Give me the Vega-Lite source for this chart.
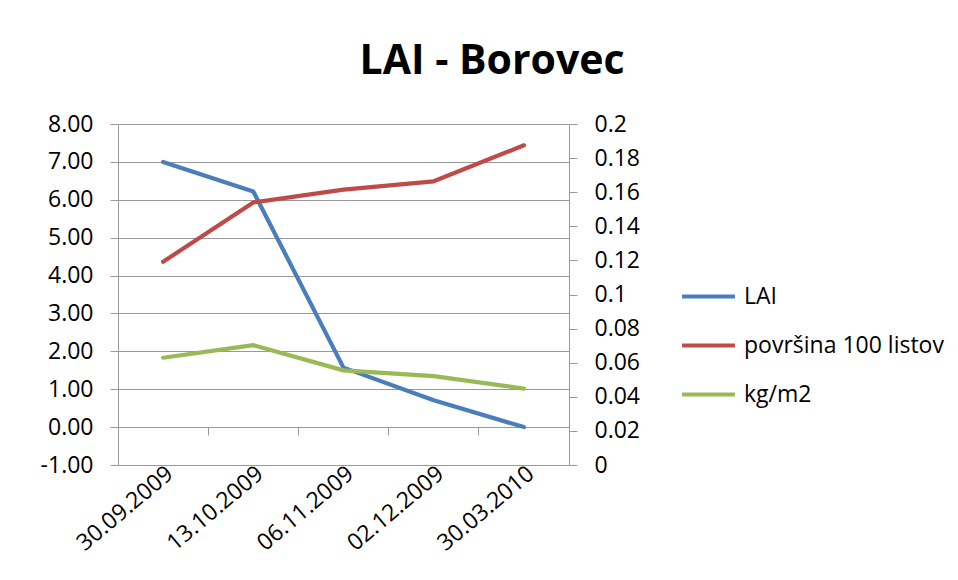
{
  "$schema": "https://vega.github.io/schema/vega-lite/v6.json",
  "width": 451,
  "height": 341,
  "autosize": {"type": "none"},
  "padding": {"left": 118, "top": 124, "right": 389, "bottom": 115},
  "background": "white",
  "title": {
    "text": "LAI - Borovec",
    "font": "Open Sans",
    "fontSize": 41,
    "fontWeight": "bold",
    "color": "#000000",
    "anchor": "middle",
    "frame": "bounds",
    "offset": 30
  },
  "data": {
    "values": [
      {"date": "30.09.2009", "series": "LAI", "value": 7.0},
      {"date": "13.10.2009", "series": "LAI", "value": 6.22},
      {"date": "06.11.2009", "series": "LAI", "value": 1.57},
      {"date": "02.12.2009", "series": "LAI", "value": 0.71},
      {"date": "30.03.2010", "series": "LAI", "value": 0.0},
      {"date": "30.09.2009", "series": "površina 100 listov", "value": 0.1192},
      {"date": "13.10.2009", "series": "površina 100 listov", "value": 0.154},
      {"date": "06.11.2009", "series": "površina 100 listov", "value": 0.1615},
      {"date": "02.12.2009", "series": "površina 100 listov", "value": 0.1664},
      {"date": "30.03.2010", "series": "površina 100 listov", "value": 0.1875},
      {"date": "30.09.2009", "series": "kg/m2", "value": 0.0629},
      {"date": "13.10.2009", "series": "kg/m2", "value": 0.0703},
      {"date": "06.11.2009", "series": "kg/m2", "value": 0.0555},
      {"date": "02.12.2009", "series": "kg/m2", "value": 0.0521},
      {"date": "30.03.2010", "series": "kg/m2", "value": 0.0448}
    ]
  },
  "layer": [
    {
      "transform": [{"filter": "datum.series === 'LAI'"}],
      "mark": {"type": "line", "strokeWidth": 4.2, "strokeCap": "round", "strokeJoin": "round"},
      "encoding": {
        "x": {
          "field": "date", "type": "ordinal", "sort": null, "bandPosition": 0.5,
          "scale": {"type": "band", "paddingInner": 0, "paddingOuter": 0},
          "axis": {
            "title": null, "orient": "bottom", "labelAngle": -40, "ticks": false, "domain": false,
            "labelFont": "Open Sans", "labelFontSize": 23, "labelColor": "#000000",
            "labelPadding": -3
          }
        },
        "y": {
          "field": "value", "type": "quantitative",
          "scale": {"domain": [-1, 8], "nice": false, "zero": false},
          "axis": {
            "title": null, "orient": "left",
            "values": [-1, 0, 1, 2, 3, 4, 5, 6, 7, 8],
            "labelExpr": "replace(format(datum.value, '.2f'), '\u2212', '-')",
            "labelFont": "Open Sans", "labelFontSize": 23, "labelColor": "#000000",
            "labelPadding": 17, "tickSize": 8, "tickColor": "#999999",
            "domainColor": "#999999", "grid": true, "gridColor": "#999999"
          }
        },
        "color": {
          "field": "series", "type": "nominal",
          "scale": {
            "domain": ["LAI", "površina 100 listov", "kg/m2"],
            "range": ["#4A7EBB", "#BE4B48", "#98B954"]
          },
          "legend": {
            "title": null, "orient": "none", "legendX": 575, "legendY": 157,
            "symbolType": "M-2,0H2", "symbolSize": 700, "symbolStrokeWidth": 4.2,
            "labelFont": "Open Sans", "labelFontSize": 23, "labelColor": "#000000",
            "labelOffset": 20, "rowPadding": 21, "padding": 0, "labelLimit": 400
          }
        }
      }
    },
    {
      "transform": [{"filter": "datum.series !== 'LAI'"}],
      "mark": {"type": "line", "strokeWidth": 4.2, "strokeCap": "round", "strokeJoin": "round"},
      "encoding": {
        "x": {
          "field": "date", "type": "ordinal", "sort": null, "bandPosition": 0.5,
          "axis": {
            "title": null, "orient": "bottom", "labels": false, "domain": false, "ticks": true,
            "bandPosition": 0, "tickSize": 8, "tickColor": "#999999",
            "offset": -38, "grid": false
          }
        },
        "y": {
          "field": "value", "type": "quantitative",
          "scale": {"domain": [0, 0.2], "nice": false},
          "axis": {
            "title": null, "orient": "right",
            "values": [0, 0.02, 0.04, 0.06, 0.08, 0.1, 0.12, 0.14, 0.16, 0.18, 0.2],
            "format": "~f",
            "labelFont": "Open Sans", "labelFontSize": 23, "labelColor": "#000000",
            "labelPadding": 17, "tickSize": 8, "tickColor": "#999999",
            "domainColor": "#999999", "grid": false
          }
        },
        "color": {"field": "series", "type": "nominal"}
      }
    }
  ],
  "resolve": {"scale": {"y": "independent"}, "axis": {"x": "independent"}},
  "config": {"view": {"stroke": null}}
}
